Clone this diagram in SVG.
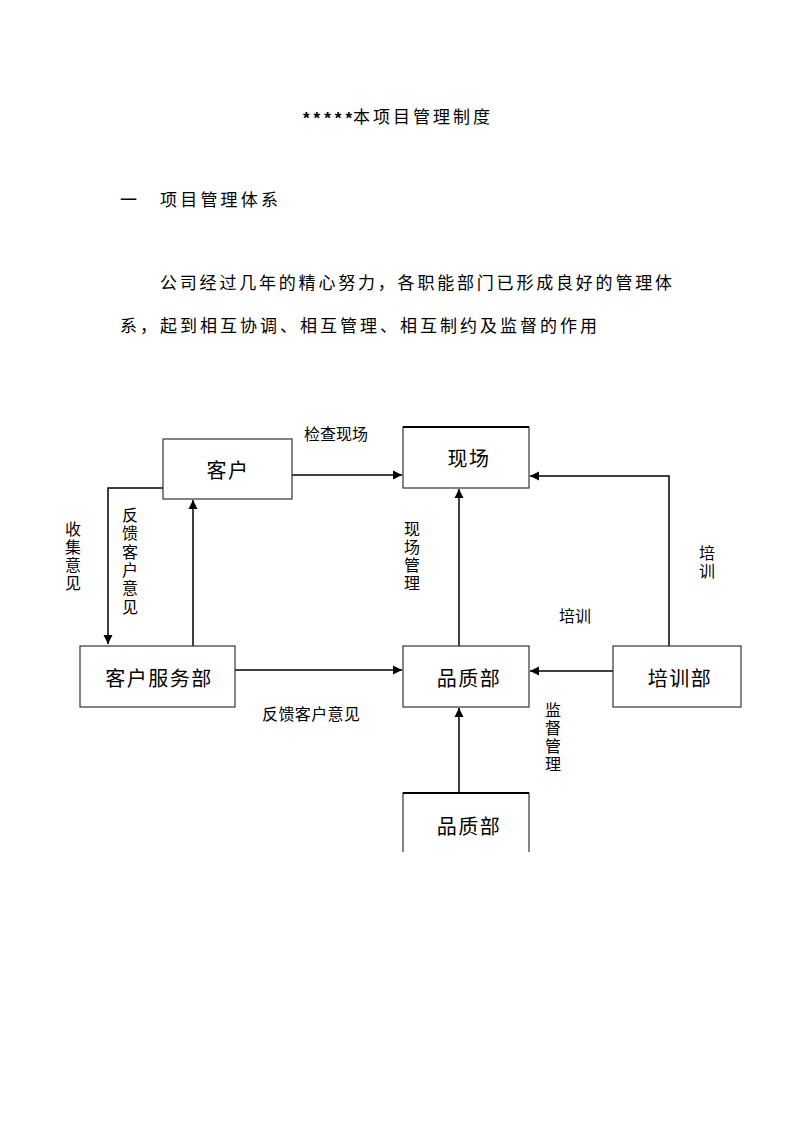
<svg xmlns="http://www.w3.org/2000/svg" width="793" height="1122" viewBox="0 0 793 1122">
<style>
.doc{font-family:"Noto Sans CJK SC","Noto Sans",sans-serif;font-size:17px;fill:#000}
.lbl{font-family:"Noto Sans CJK SC","Liberation Sans",sans-serif;font-size:16px;fill:#000}
.vc{font-family:"Noto Sans CJK SC","Liberation Sans",sans-serif;font-size:16px;fill:#000;text-anchor:middle}
.nt{font-family:"Noto Sans CJK SC","Liberation Sans",sans-serif;font-size:20px;fill:#000;text-anchor:middle;dominant-baseline:central;letter-spacing:1.5px}
.box{fill:#fff;stroke:#333;stroke-width:1.2}
.ln{fill:none;stroke:#000;stroke-width:1.5}
</style>
<defs>
<marker id="ah" markerWidth="10" markerHeight="10" refX="9" refY="5" orient="auto" markerUnits="userSpaceOnUse">
<path d="M0,0.5 L9,5 L0,9.5 Z" fill="#000"/>
</marker>
</defs>
<rect width="793" height="1122" fill="#fff"/>

<g id="header">
<text x="303" y="124" font-family="Liberation Sans, sans-serif" font-size="17" font-weight="bold" textLength="49" lengthAdjust="spacing">*****</text>
<text class="doc" x="353" y="123" textLength="137" lengthAdjust="spacing">本项目管理制度</text>
<text class="doc" x="120" y="206">一</text>
<text class="doc" x="160" y="206" textLength="118" lengthAdjust="spacing">项目管理体系</text>
<text class="doc" x="160" y="289" textLength="512" lengthAdjust="spacing">公司经过几年的精心努力，各职能部门已形成良好的管理体</text>
<text class="doc" x="120" y="332" textLength="477" lengthAdjust="spacing">系，起到相互协调、相互管理、相互制约及监督的作用</text>
</g>

<g id="connectors">
<line class="ln" x1="292" y1="475" x2="402" y2="475" marker-end="url(#ah)"/>
<polyline class="ln" points="163,488 108,488 108,644" marker-end="url(#ah)"/>
<line class="ln" x1="193" y1="646" x2="193" y2="500" marker-end="url(#ah)"/>
<line class="ln" x1="235" y1="670" x2="402" y2="670" marker-end="url(#ah)"/>
<line class="ln" x1="459" y1="646" x2="459" y2="489" marker-end="url(#ah)"/>
<polyline class="ln" points="669,646 669,476 530,476" marker-end="url(#ah)"/>
<line class="ln" x1="613" y1="671" x2="530" y2="671" marker-end="url(#ah)"/>
<line class="ln" x1="459" y1="793" x2="459" y2="708" marker-end="url(#ah)"/>
</g>

<g id="node-kehu">
<rect class="box" x="163" y="439" width="129" height="60"/>
<rect x="293" y="430" width="4" height="21" fill="#fff"/>
<text class="nt" x="228" y="469">客户</text>
</g>

<g id="node-xianchang">
<rect class="box" x="403" y="427" width="126" height="61"/>
<line x1="403" y1="427" x2="529" y2="427" stroke="#000" stroke-width="2.2"/>
<text class="nt" x="469" y="457">现场</text>
</g>

<g id="node-kehufuwubu">
<rect class="box" x="80" y="646" width="155" height="61"/>
<text class="nt" x="159" y="677">客户服务部</text>
</g>

<g id="node-pinzhibu">
<rect class="box" x="403" y="646" width="126" height="61"/>
<text class="nt" x="469" y="677">品质部</text>
</g>

<g id="node-peixunbu">
<rect class="box" x="613" y="646" width="128" height="61"/>
<text class="nt" x="680" y="677">培训部</text>
</g>

<g id="node-pinzhibu2">
<path d="M403,852 V793 H529 V852" fill="#fff" stroke="#333" stroke-width="1.2"/>
<line x1="403" y1="793" x2="529" y2="793" stroke="#000" stroke-width="2.2"/>
<text class="nt" x="469" y="825">品质部</text>
</g>

<g id="labels">
<text class="lbl" x="304" y="440">检查现场</text>
<text class="vc" x="73" y="535"><tspan x="73">收</tspan><tspan x="73" dy="18">集</tspan><tspan x="73" dy="18">意</tspan><tspan x="73" dy="18">见</tspan></text>
<text class="vc" x="130" y="521"><tspan x="130">反</tspan><tspan x="130" dy="18.3">馈</tspan><tspan x="130" dy="18.3">客</tspan><tspan x="130" dy="18.3">户</tspan><tspan x="130" dy="18.3">意</tspan><tspan x="130" dy="18.3">见</tspan></text>
<text class="vc" x="412" y="535"><tspan x="412">现</tspan><tspan x="412" dy="18">场</tspan><tspan x="412" dy="18">管</tspan><tspan x="412" dy="18">理</tspan></text>
<text class="vc" x="707" y="559"><tspan x="707">培</tspan><tspan x="707" dy="18">训</tspan></text>
<text class="lbl" x="559" y="622">培训</text>
<text class="lbl" x="262" y="720" textLength="98" lengthAdjust="spacing">反馈客户意见</text>
<text class="vc" x="553" y="716"><tspan x="553">监</tspan><tspan x="553" dy="18">督</tspan><tspan x="553" dy="18">管</tspan><tspan x="553" dy="18">理</tspan></text>
</g>
</svg>
